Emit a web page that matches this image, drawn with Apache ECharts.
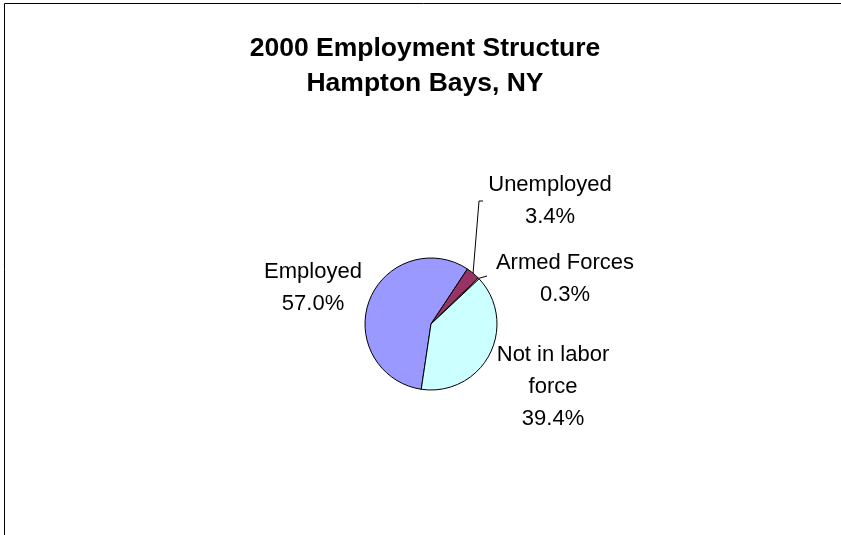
<!DOCTYPE html>
<html>
<head>
<meta charset="utf-8">
<script src="https://cdn.jsdelivr.net/npm/echarts@6/dist/echarts.min.js"></script>
<style>
  html, body { margin: 0; padding: 0; background: #ffffff; }
  #chart { width: 841px; height: 535px; }
</style>
</head>
<body>
<div id="chart"></div>
<script>
// Employment status shares, Hampton Bays, NY (2000), in percent
const categories = ['Employed', 'Unemployed', 'Armed Forces', 'Not in labor force'];
const shares = [57.0, 3.4, 0.3, 39.4];
const sliceColors = ['#9999FF', '#993366', '#FFFFCC', '#CCFFFF'];

const titleLines = ['2000 Employment Structure', 'Hampton Bays, NY'];

// Label block centres (px) and optional leader bends for each slice
const labelSpots = [
  { x: 313, y: 288, leader: null },
  { x: 550, y: 201, leader: [[479, 201], [483, 201]] },
  { x: 565, y: 279, leader: [[487, 276]] },
  { x: 553, y: 387, leader: null }
];

const FONT = '"Liberation Sans", Arial, Helvetica, sans-serif';

const chart = echarts.init(document.getElementById('chart'), null, { renderer: 'canvas' });

const data = categories.map((name, i) => ({
  name: name,
  value: shares[i],
  itemStyle: { color: sliceColors[i] },
  labelLine: { show: !!labelSpots[i].leader }
}));

chart.setOption({
  animation: false,
  backgroundColor: '#ffffff',
  title: {
    text: titleLines.join('\n'),
    left: 420,
    textAlign: 'center',
    top: 26,
    textStyle: {
      fontFamily: FONT,
      fontWeight: 'bold',
      fontSize: 26.5,
      lineHeight: 35,
      color: '#000000'
    }
  },
  graphic: [{
    type: 'rect',
    silent: true,
    shape: { x: 4.5, y: 3.5, width: 1200, height: 1200 },
    style: { fill: 'none', stroke: '#000000', lineWidth: 1 }
  }],
  series: [{
    type: 'pie',
    center: [431, 324],
    radius: 66,
    startAngle: 90 - 188.5,
    clockwise: true,
    avoidLabelOverlap: false,
    silent: true,
    emphasis: { disabled: true },
    itemStyle: { borderColor: '#000000', borderWidth: 1 },
    label: {
      show: true,
      position: 'outside',
      fontFamily: FONT,
      fontSize: 22,
      lineHeight: 32,
      color: '#000000',
      align: 'center',
      formatter: p => p.name.replace('labor ', 'labor\n') + '\n' + p.value.toFixed(1) + '%'
    },
    labelLine: {
      show: true,
      length: 10,
      length2: 5,
      lineStyle: { color: '#000000', width: 1 }
    },
    labelLayout: function (params) {
      const spot = labelSpots[params.dataIndex];
      const out = { x: spot.x, y: spot.y, align: 'center', verticalAlign: 'middle' };
      if (spot.leader && params.labelLinePoints) {
        out.labelLinePoints = [params.labelLinePoints[0]].concat(spot.leader);
      }
      return out;
    },
    data: data
  }]
});
</script>
</body>
</html>
